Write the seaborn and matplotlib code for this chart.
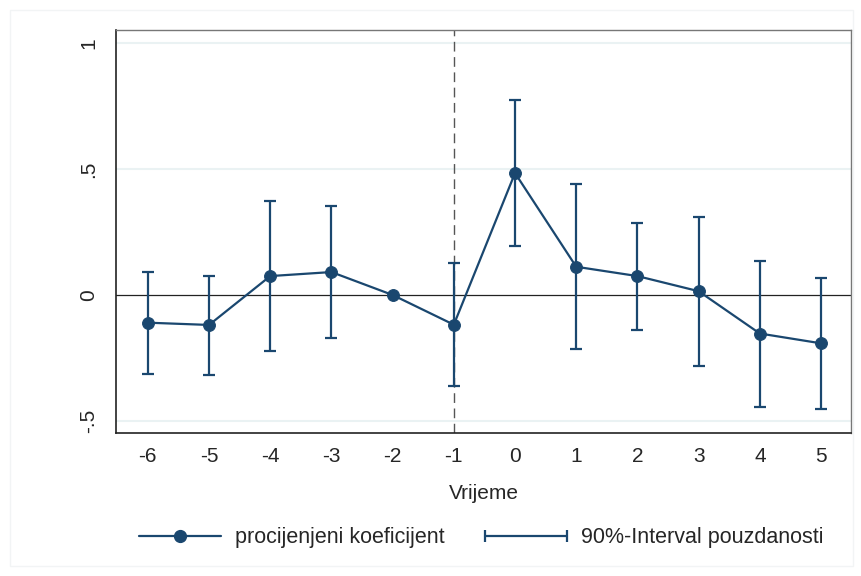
import matplotlib
matplotlib.use("Agg")
import matplotlib.pyplot as plt
import seaborn as sns
import pandas as pd
from matplotlib.lines import Line2D
from matplotlib.legend_handler import HandlerLine2D
from matplotlib.patches import Rectangle

# Data
periods = [-6, -5, -4, -3, -2, -1, 0, 1, 2, 3, 4, 5]
coef = [-0.110, -0.119, 0.075, 0.091, 0.0, -0.118, 0.484, 0.112, 0.075, 0.015, -0.153, -0.192]
ci_low = [-0.313, -0.319, -0.224, -0.169, None, -0.361, 0.194, -0.216, -0.139, -0.282, -0.443, -0.452]
ci_high = [0.091, 0.075, 0.374, 0.352, None, 0.127, 0.774, 0.440, 0.287, 0.311, 0.135, 0.069]
ytick_vals = [-0.5, 0, 0.5, 1]
ytick_labels = ["-.5", "0", ".5", "1"]

navy = "#1a476f"
grid_c = "#eaf2f3"
FS = 15

sns.set_style("white")
plt.rcParams["font.family"] = ["Liberation Sans", "DejaVu Sans"]

df = pd.DataFrame({"t": periods, "b": coef, "lo": ci_low, "hi": ci_high})

fig = plt.figure(figsize=(8.61, 5.76), dpi=100)
ax = fig.add_axes([116/861, 1-433/576, (851-116)/861, (433-30)/576])

# gridlines
for yv in ytick_vals:
    if yv != 0:
        ax.axhline(yv, color=grid_c, lw=1.5, zorder=0)
ax.axhline(0, color="#222222", lw=0.9, zorder=1)
ax.axvline(-1, color="#555555", lw=1.0, ls=(0, (7, 4)), zorder=1)

ci = df.dropna()
ax.errorbar(ci["t"], ci["b"], yerr=[ci["b"] - ci["lo"], ci["hi"] - ci["b"]],
            fmt="none", ecolor=navy, elinewidth=1.6, capsize=4, capthick=1.6, zorder=2)
sns.lineplot(data=df, x="t", y="b", ax=ax, color=navy, lw=1.6, marker="o",
             markersize=8.5, markeredgecolor=navy, zorder=3, legend=False)

ax.set_xlim(-6.52, 5.49)
ax.set_ylim(-0.548, 1.052)
ax.set_xticks(periods)
ax.set_xticklabels([str(p) for p in periods], fontsize=FS)
ax.set_yticks(ytick_vals)
ax.set_yticklabels(ytick_labels, fontsize=FS, rotation=90, va="center")
ax.tick_params(axis="both", direction="out", length=7, width=1, color="#555555")
ax.tick_params(axis="x", pad=3)
ax.tick_params(axis="y", pad=6)
ax.set_xlabel("Vrijeme", fontsize=FS, labelpad=13)
ax.set_ylabel("")
for side in ["left", "bottom"]:
    ax.spines[side].set_color("#222222")
    ax.spines[side].set_linewidth(1.2)
for side in ["top", "right"]:
    ax.spines[side].set_color("#777777")
    ax.spines[side].set_linewidth(1.0)

# faint graph-region border
fig.patches.append(Rectangle((10/861, 1-566/576), 851/861 - 10/861 + 0.002, 556/576,
                             transform=fig.transFigure, fill=False, edgecolor="#f2f4f5", lw=1))

h1 = Line2D([], [], color=navy, lw=1.6, marker="o", markersize=8.5)
h2 = Line2D([], [], color=navy, lw=1.6, marker="|", markersize=9, markeredgewidth=1.6)
fig.legend([h1, h2], ["procijenjeni koeficijent", "90%-Interval pouzdanosti"],
           loc="center", bbox_to_anchor=(0.559, 0.066), ncol=2, frameon=False,
           fontsize=15.5, handlelength=3.8, columnspacing=1.9, handletextpad=0.65,
           borderpad=0.2,
           handler_map={h1: HandlerLine2D(numpoints=1), h2: HandlerLine2D(numpoints=2, marker_pad=0.0)})

fig.savefig("out.png", dpi=100)
